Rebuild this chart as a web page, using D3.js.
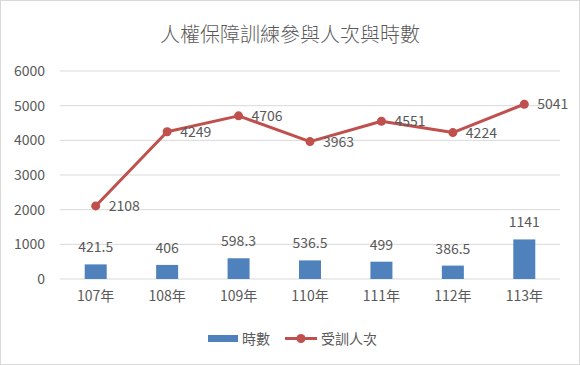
<!DOCTYPE html>
<html><head><meta charset="utf-8">
<script src="https://cdn.jsdelivr.net/npm/d3@7"></script>
<style>body{margin:0;background:#fff}svg{display:block;font-family:"Noto Sans CJK TC","Noto Sans",sans-serif}</style>
</head><body>
<svg id="c" width="580" height="365"></svg>
<script>
const categories = ["107年","108年","109年","110年","111年","112年","113年"];
const hours = [421.5, 406, 598.3, 536.5, 499, 386.5, 1141];
const trainees = [2108, 4249, 4706, 3963, 4551, 4224, 5041];
const yTicks = [0,1000,2000,3000,4000,5000,6000];
const title = "人權保障訓練參與人次與時數";
const seriesNames = ["時數","受訓人次"];

const svg = d3.select("#c");
const m = {l:60, r:20};
const W = 580, H = 365;
const x = d3.scaleBand().domain(categories).range([m.l, W-m.r]);
const y = d3.scaleLinear().domain([0,6000]).range([279, 71]);
const blue = "#4F81BD", red = "#C0504D", txt = "#595959";
const fs = 14;

svg.append("rect").attr("x",0.5).attr("y",0.5).attr("width",W-1).attr("height",H-1)
  .attr("fill","#fff").attr("stroke","#d9d9d9");

svg.append("text").attr("x",W/2).attr("y",42).attr("text-anchor","middle")
  .attr("font-size",20).attr("font-weight",300).attr("fill",txt).text(title);

// grid
svg.append("g").selectAll("line").data(yTicks).join("line")
  .attr("x1",m.l).attr("x2",W-m.r).attr("y1",d=>y(d)).attr("y2",d=>y(d))
  .attr("stroke","#d9d9d9").attr("stroke-width",1);

// y axis
const ya = svg.append("g").attr("transform",`translate(${m.l},0)`)
  .call(d3.axisLeft(y).tickValues(yTicks).tickFormat(d3.format("d")).tickSize(0).tickPadding(15));
ya.select(".domain").remove();
ya.selectAll("text").attr("font-size",fs).attr("fill",txt).attr("font-family","'Noto Sans CJK TC',sans-serif");

// x axis
const xa = svg.append("g").attr("transform",`translate(0,${y(0)})`)
  .call(d3.axisBottom(x).tickSize(0).tickPadding(12));
xa.select(".domain").remove();
xa.selectAll("text").attr("font-size",fs).attr("fill",txt).attr("font-family","'Noto Sans CJK TC',sans-serif");

// bars
const bw = 22;
svg.append("g").selectAll("rect").data(hours).join("rect")
  .attr("x",(d,i)=>x(categories[i])+x.bandwidth()/2-bw/2)
  .attr("width",bw).attr("y",d=>y(d)).attr("height",d=>y(0)-y(d))
  .attr("fill",blue);
svg.append("g").selectAll("text").data(hours).join("text")
  .attr("x",(d,i)=>x(categories[i])+x.bandwidth()/2)
  .attr("y",d=>y(d)-12).attr("text-anchor","middle")
  .attr("font-size",fs).attr("fill",txt).text(d=>d);

// line
const cx = i => x(categories[i])+x.bandwidth()/2;
svg.append("path").datum(trainees)
  .attr("d",d3.line().x((d,i)=>cx(i)).y(d=>y(d)))
  .attr("fill","none").attr("stroke",red).attr("stroke-width",3).attr("stroke-linejoin","round");
svg.append("g").selectAll("circle").data(trainees).join("circle")
  .attr("cx",(d,i)=>cx(i)).attr("cy",d=>y(d)).attr("r",4.5).attr("fill",red);
svg.append("g").selectAll("text").data(trainees).join("text")
  .attr("x",(d,i)=>cx(i)+13).attr("y",d=>y(d)+5)
  .attr("font-size",fs).attr("fill",txt).text(d=>d);

// legend
const lg = svg.append("g");
lg.append("rect").attr("x",208).attr("y",335).attr("width",30).attr("height",7).attr("fill",blue);
lg.append("text").attr("x",242).attr("y",344).attr("font-size",fs).attr("fill",txt).text(seriesNames[0]);
lg.append("line").attr("x1",285).attr("x2",317).attr("y1",338.5).attr("y2",338.5).attr("stroke",red).attr("stroke-width",3);
lg.append("circle").attr("cx",301).attr("cy",338.5).attr("r",4.5).attr("fill",red);
lg.append("text").attr("x",321).attr("y",344).attr("font-size",fs).attr("fill",txt).text(seriesNames[1]);
</script>
</body></html>
